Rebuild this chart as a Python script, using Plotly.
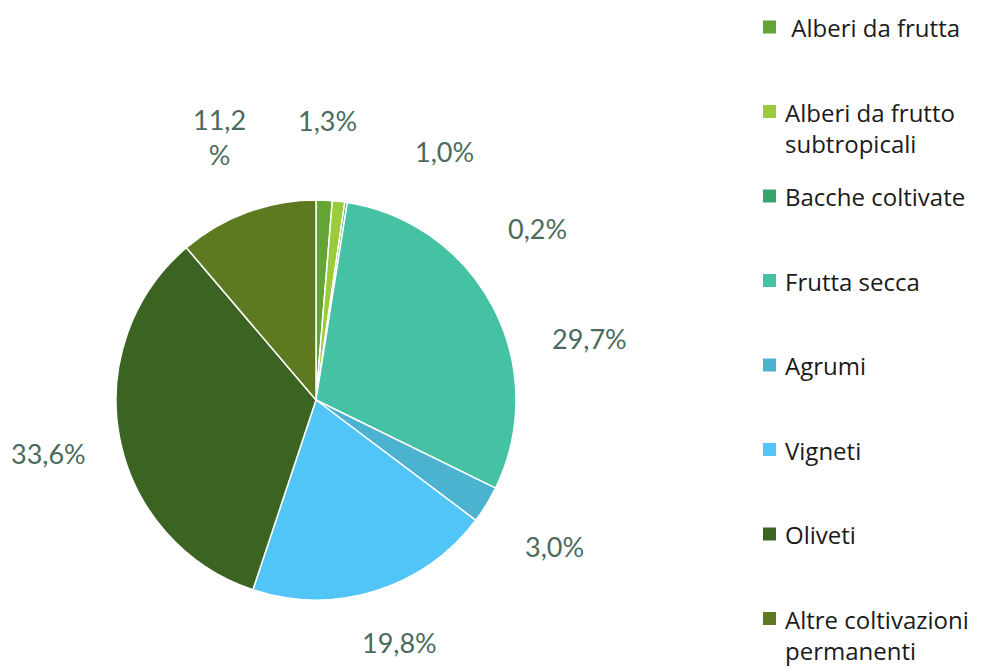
import math
import plotly.graph_objects as go

categories = ["\u00a0Alberi da frutta", "Alberi da frutto<br>subtropicali", "Bacche coltivate",
              "Frutta secca", "Agrumi", "Vigneti", "Oliveti", "Altre coltivazioni<br>permanenti"]
values = [1.3, 1.0, 0.2, 29.7, 3.0, 19.8, 33.6, 11.2]
colors = ["#62A535", "#9BCB3B", "#35A36C", "#45C1A4", "#4BB2D0", "#51C4F8", "#3B6321", "#5E7A21"]


def fmt(v):
    s = f"{v:.1f}".replace(".", ",")
    return s + ("<br>%" if 10 <= v < 12 else "%")


labels_text = [fmt(v) for v in values]

W, H = 977, 659
CX, CY, R = 308, 392, 200

fig = go.Figure(go.Pie(
    labels=categories,
    values=values,
    textinfo="none",
    sort=False,
    direction="clockwise",
    rotation=0,
    showlegend=False,
    marker=dict(colors=colors, line=dict(color="white", width=1.5)),
    domain=dict(x=[(CX - R) / W, (CX + R) / W], y=[(H - CY - R) / H, (H - CY + R) / H]),
    hoverinfo="label+percent",
))

# data labels placed outside the pie at the slice mid-angle (pushed apart when crowded)
total = sum(values)
mids = []
cum = 0
for v in values:
    mids.append(360 * (cum + v / 2) / total)
    cum += v
for i in range(1, len(mids)):
    if mids[i] - mids[i - 1] < 25:
        mids[i] = mids[i - 1] + 25
LR = 1.4 * R
for ang, txt in zip(mids, labels_text):
    a = math.radians(ang)
    px = min(max(CX + LR * math.sin(a), 40), W - 40)
    py = min(max(CY - LR * math.cos(a), 25), H - 25)
    fig.add_annotation(
        x=px / W, y=1 - py / H, xref="paper", yref="paper",
        text=txt, showarrow=False, xanchor="center", yanchor="middle",
        font=dict(family="Lato", size=27, color="#4A6B5C"),
    )

# legend: one colour square + label per category, stacked on the right
LEG_X, LEG_Y0, LEG_STEP, SQ, FS = 755, 18, 84.5, 13, 24
for i, (name, col) in enumerate(zip(categories, colors)):
    yc = LEG_Y0 + LEG_STEP * i
    fig.add_shape(
        type="rect", xref="paper", yref="paper",
        x0=LEG_X / W, x1=(LEG_X + SQ) / W,
        y0=1 - (yc + SQ / 2 + 1) / H, y1=1 - (yc - SQ / 2 + 1) / H,
        fillcolor=col, line=dict(width=0),
    )
    fig.add_annotation(
        x=(LEG_X + SQ + 7) / W, y=1 - (yc - 0.65 * FS - 1) / H, xref="paper", yref="paper",
        text=name, showarrow=False, xanchor="left", yanchor="top", align="left",
        font=dict(family="Open Sans", size=FS, color="#1A1A1A"),
    )

fig.update_layout(
    width=W, height=H,
    margin=dict(l=0, r=0, t=0, b=0),
    paper_bgcolor="white",
    plot_bgcolor="white",
)

fig.write_html("out.html")
